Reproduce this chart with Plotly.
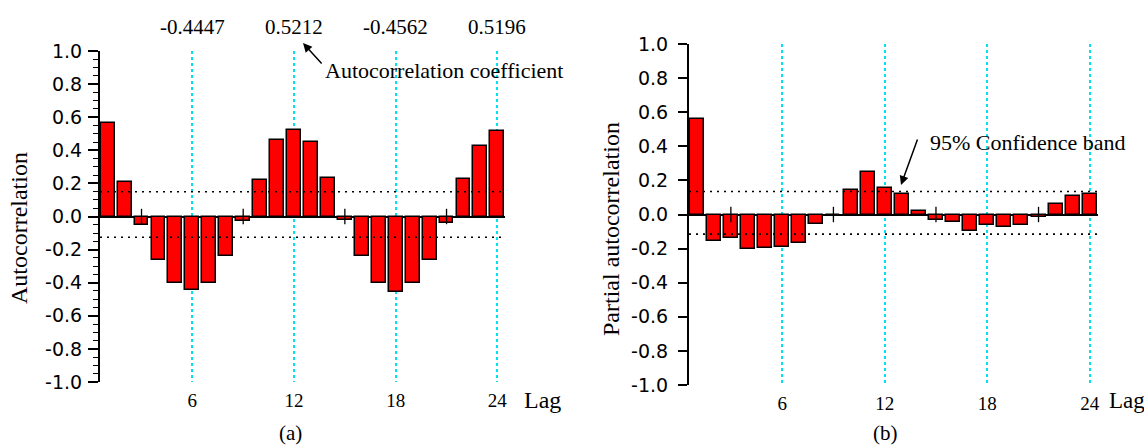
import plotly.graph_objects as go

# ---------------- data ----------------
lags = list(range(1, 25))
acf = [0.565, 0.21, -0.05, -0.26, -0.40, -0.4447, -0.40, -0.24, -0.03, 0.22,
       0.46, 0.5212, 0.45, 0.235, -0.02, -0.24, -0.40, -0.4562, -0.40, -0.26,
       -0.04, 0.225, 0.425, 0.5196]
pacf = [0.56, -0.155, -0.135, -0.205, -0.197, -0.19, -0.165, -0.053, 0.0, 0.145,
        0.248, 0.153, 0.123, 0.02, -0.033, -0.043, -0.097, -0.064, -0.074, -0.064,
        -0.015, 0.062, 0.111, 0.123]
acf_band = [0.15, -0.125]
pacf_band = [0.135, -0.115]
season_lags = [6, 12, 18, 24]
minor_lags = [3, 9, 15, 21]
y_ticks = [-1.0, -0.8, -0.6, -0.4, -0.2, 0.0, 0.2, 0.4, 0.6, 0.8, 1.0]
y_ticktext = [f"{v:.1f}" for v in y_ticks]
x_ticktext = [str(v) for v in season_lags]
peak_labels = [f"{acf[l - 1]:.4f}" for l in season_lags]

W, H = 1144, 448
SERIF = "Liberation Serif, Times New Roman, serif"
SANS = "DejaVu Sans, Verdana, sans-serif"
CYAN = "#00E2EE"

xr1 = [0.55, 24.45]
xr2 = [0.55, 24.48]

def px(x):
    return x / W

def py(y):
    return 1 - y / H

fig = go.Figure()

# bars
for vals, xa, ya in [(acf, "x", "y"), (pacf, "x2", "y2")]:
    fig.add_trace(go.Bar(
        x=lags, y=vals, width=0.82, xaxis=xa, yaxis=ya,
        marker=dict(color="#FF0000", line=dict(color="black", width=1.5)),
        hoverinfo="x+y"))

# confidence bands (dotted)
for band, xr, xa, ya in [(acf_band, xr1, "x", "y"), (pacf_band, xr2, "x2", "y2")]:
    for b in band:
        fig.add_trace(go.Scatter(
            x=xr, y=[b, b], mode="lines", xaxis=xa, yaxis=ya,
            line=dict(color="black", width=1.6, dash="2px,5px"),
            hoverinfo="skip"))

# minor ticks crossing the zero line
for xa, ya in [("x", "y"), ("x2", "y2")]:
    fig.add_trace(go.Scatter(
        x=minor_lags, y=[0] * len(minor_lags), mode="markers", xaxis=xa, yaxis=ya,
        marker=dict(symbol="line-ns", size=11, line=dict(color="black", width=1.3)),
        cliponaxis=False, hoverinfo="skip"))

xaxis_common = dict(
    tickmode="array", tickvals=season_lags, ticktext=x_ticktext,
    showline=False, ticks="", zeroline=False, automargin=False,
    showgrid=True, gridcolor=CYAN, griddash="dot", gridwidth=1.5,
    tickfont=dict(family=SERIF, size=19, color="black"),
    ticklabelstandoff=5, fixedrange=True,
)
yaxis_common = dict(
    range=[-1, 1], tickmode="array", tickvals=y_ticks, ticktext=y_ticktext,
    showline=True, linecolor="black", linewidth=2, automargin=False,
    ticks="outside", ticklen=10, tickwidth=1.5, tickcolor="black",
    showgrid=False, zeroline=True, zerolinecolor="black", zerolinewidth=1.5,
    tickfont=dict(family=SANS, size=19, color="black"), fixedrange=True,
)

fig.update_layout(
    width=W, height=H, margin=dict(l=0, r=0, t=0, b=0, pad=0, autoexpand=False),
    paper_bgcolor="white", plot_bgcolor="white", showlegend=False,
    bargap=0,
    xaxis=dict(xaxis_common, domain=[px(100), px(505)], range=xr1, anchor="y"),
    yaxis=dict(yaxis_common, domain=[py(382), py(51)], anchor="x",
               ticklabelstandoff=2,
               minor=dict(tick0=-1, dtick=0.05, ticks="outside", ticklen=5,
                          tickwidth=1, tickcolor="black", showgrid=False)),
    xaxis2=dict(xaxis_common, domain=[px(689), px(1098)], range=xr2, anchor="y2"),
    yaxis2=dict(yaxis_common, domain=[py(385), py(44)], anchor="x2",
                ticklen=9, ticklabelstandoff=6),
)

ann = []
# peak value labels above panel (a)
for lag, lab in zip(season_lags, peak_labels):
    ann.append(dict(x=lag, xref="x", y=py(27), yref="paper", text=lab,
                    showarrow=False, xanchor="center", yanchor="middle",
                    font=dict(family=SERIF, size=21, color="black")))
# arrow + text (a)
ann.append(dict(x=px(303), y=py(43), xref="paper", yref="paper", text="",
                showarrow=True, arrowhead=2, arrowsize=1.2, arrowwidth=1.5,
                arrowcolor="black", ax=20, ay=22))
ann.append(dict(x=px(323), y=py(70), xref="paper", yref="paper",
                text="Autocorrelation coefficient", showarrow=False,
                xanchor="left", yanchor="middle",
                font=dict(family=SERIF, size=22, color="black")))
# arrow + text (b)
ann.append(dict(x=px(901), y=py(185), xref="paper", yref="paper", text="",
                showarrow=True, arrowhead=2, arrowsize=1.2, arrowwidth=1.5,
                arrowcolor="black", ax=17, ay=-47))
ann.append(dict(x=px(928), y=py(142), xref="paper", yref="paper",
                text="95% Confidence band", showarrow=False,
                xanchor="left", yanchor="middle",
                font=dict(family=SERIF, size=22, color="black")))
# axis titles
ann.append(dict(x=px(19), y=py(228), xref="paper", yref="paper",
                text="Autocorrelation", textangle=-90, showarrow=False,
                xanchor="center", yanchor="middle",
                font=dict(family=SERIF, size=24, color="black")))
ann.append(dict(x=px(611), y=py(229), xref="paper", yref="paper",
                text="Partial autocorrelation", textangle=-90, showarrow=False,
                xanchor="center", yanchor="middle",
                font=dict(family=SERIF, size=24, color="black")))
ann.append(dict(x=px(522), y=py(400), xref="paper", yref="paper",
                text="Lag", showarrow=False, xanchor="left", yanchor="middle",
                font=dict(family=SERIF, size=24, color="black")))
ann.append(dict(x=px(1107), y=py(400), xref="paper", yref="paper",
                text="Lag", showarrow=False, xanchor="left", yanchor="middle",
                font=dict(family=SERIF, size=23, color="black")))
# panel labels
ann.append(dict(x=px(290), y=py(433), xref="paper", yref="paper", text="(a)",
                showarrow=False, xanchor="center", yanchor="middle",
                font=dict(family=SERIF, size=21, color="black")))
ann.append(dict(x=px(885), y=py(433), xref="paper", yref="paper", text="(b)",
                showarrow=False, xanchor="center", yanchor="middle",
                font=dict(family=SERIF, size=21, color="black")))

fig.update_layout(annotations=ann)
fig.write_html("out.html")
